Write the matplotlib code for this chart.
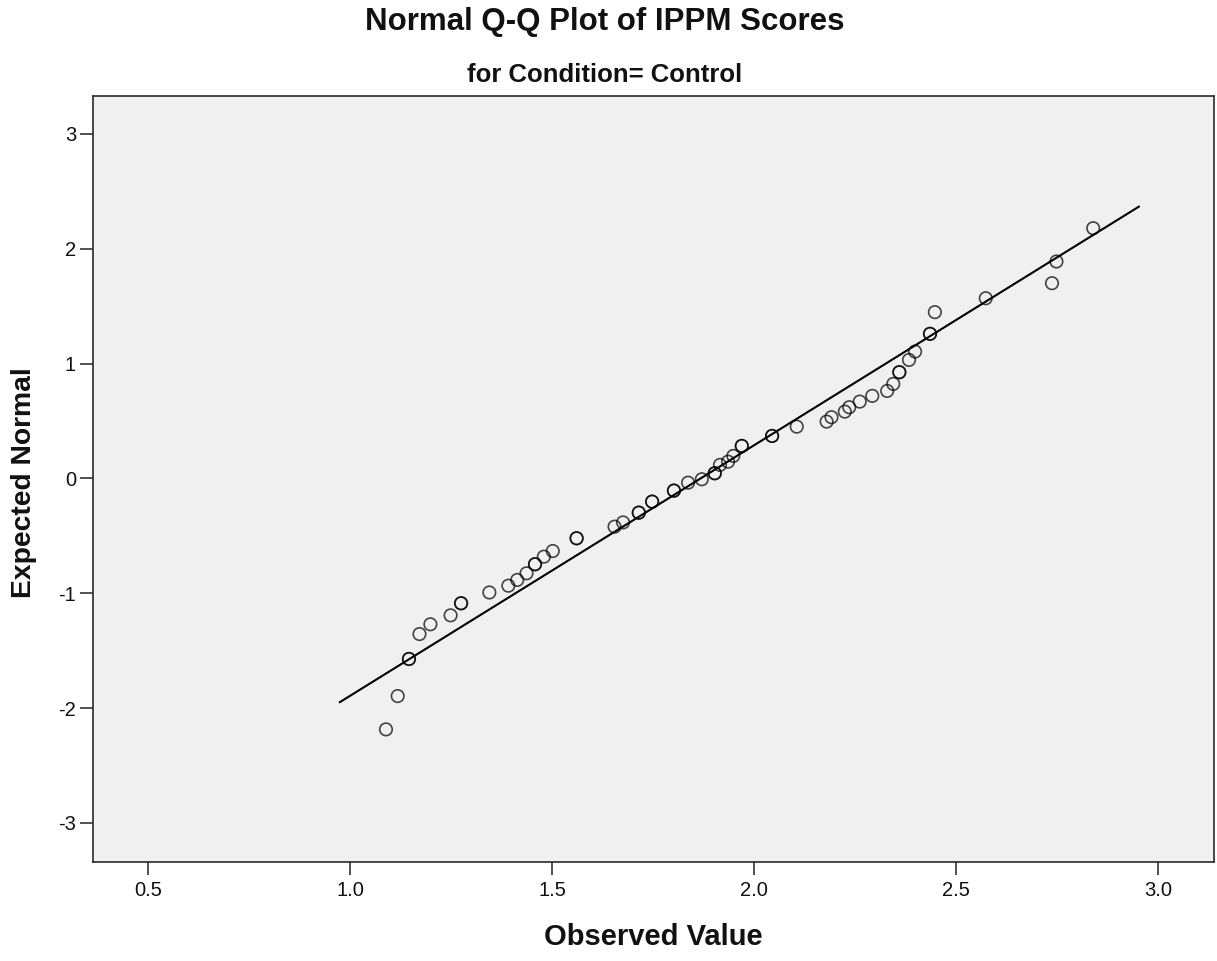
import numpy as np
import matplotlib.pyplot as plt

plt.rcParams['font.family'] = ['Liberation Sans', 'DejaVu Sans']

# observed IPPM scores (tied scores repeated) and their expected normal values
observed = [1.089, 1.118, 1.146, 1.146, 1.172, 1.199, 1.249, 1.275, 1.275,
            1.345, 1.392, 1.414, 1.437, 1.458, 1.458, 1.480, 1.502, 1.561, 1.561,
            1.655, 1.676, 1.715, 1.715, 1.748, 1.748, 1.802, 1.802, 1.837, 1.871,
            1.903, 1.903, 1.916, 1.936, 1.949, 1.970, 1.970, 2.045, 2.045, 2.106,
            2.180, 2.192, 2.225, 2.236, 2.262, 2.293, 2.330, 2.345, 2.360, 2.360,
            2.384, 2.399, 2.436, 2.436, 2.448, 2.574, 2.738, 2.749, 2.840]
expected = [-2.185, -1.895, -1.572, -1.572, -1.355, -1.270, -1.192, -1.087, -1.087,
            -0.993, -0.934, -0.884, -0.826, -0.747, -0.747, -0.681, -0.632, -0.521, -0.521,
            -0.420, -0.383, -0.298, -0.298, -0.202, -0.202, -0.106, -0.106, -0.037, -0.007,
            0.045, 0.045, 0.118, 0.146, 0.196, 0.283, 0.283, 0.370, 0.370, 0.451,
            0.495, 0.533, 0.582, 0.620, 0.669, 0.719, 0.762, 0.823, 0.925, 0.925,
            1.032, 1.105, 1.259, 1.259, 1.448, 1.569, 1.700, 1.889, 2.179]

# reference line: y = (x - mean) / sd
score_mean = 1.868
score_sd = 0.4585
line_x = np.array([0.975, 2.953])

xticks = [0.5, 1.0, 1.5, 2.0, 2.5, 3.0]
yticks = [-3, -2, -1, 0, 1, 2, 3]

fig = plt.figure(figsize=(12.17, 9.61), dpi=100)
ax = fig.add_axes([0.0762, 0.1030, 0.9213, 0.7971])
ax.set_facecolor('#F0F0F0')

ax.plot(line_x, (line_x - score_mean) / score_sd, color='black', lw=1.5, zorder=2)
ax.scatter(observed, expected, s=81, facecolors='none', edgecolors='black',
           linewidths=1.2, alpha=0.72, zorder=3)

ax.set_xlim(0.363, 3.139)
ax.set_ylim(-3.34, 3.33)
ax.set_xticks(xticks)
ax.set_xticklabels(['%.1f' % t for t in xticks])
ax.set_yticks(yticks)
ax.set_yticklabels([str(t) for t in yticks])
ax.tick_params(axis='both', direction='out', length=9.5, width=1.1,
               color='#222222', labelsize=14.5, labelcolor='#111111')
ax.tick_params(axis='x', pad=4)
ax.tick_params(axis='y', pad=2.5)
for sp in ax.spines.values():
    sp.set_color('#2a2a2a')
    sp.set_linewidth(1.2)

fig.text(0.497, 1 - 22 / 961, 'Normal Q-Q Plot of IPPM Scores', ha='center', va='center',
         fontsize=22.5, fontweight='bold', color='#111111')
fig.text(0.497, 1 - 75 / 961, 'for Condition= Control', ha='center', va='center',
         fontsize=18.5, fontweight='bold', color='#111111')
fig.text(653 / 1217, 1 - 937 / 961, 'Observed Value', ha='center', va='center',
         fontsize=21, fontweight='bold', color='#111111')
fig.text(24 / 1217, 1 - 483 / 961, 'Expected Normal', ha='center', va='center',
         rotation=90, fontsize=20.3, fontweight='bold', color='#111111')

fig.savefig('out.png', dpi=100, facecolor='white')
